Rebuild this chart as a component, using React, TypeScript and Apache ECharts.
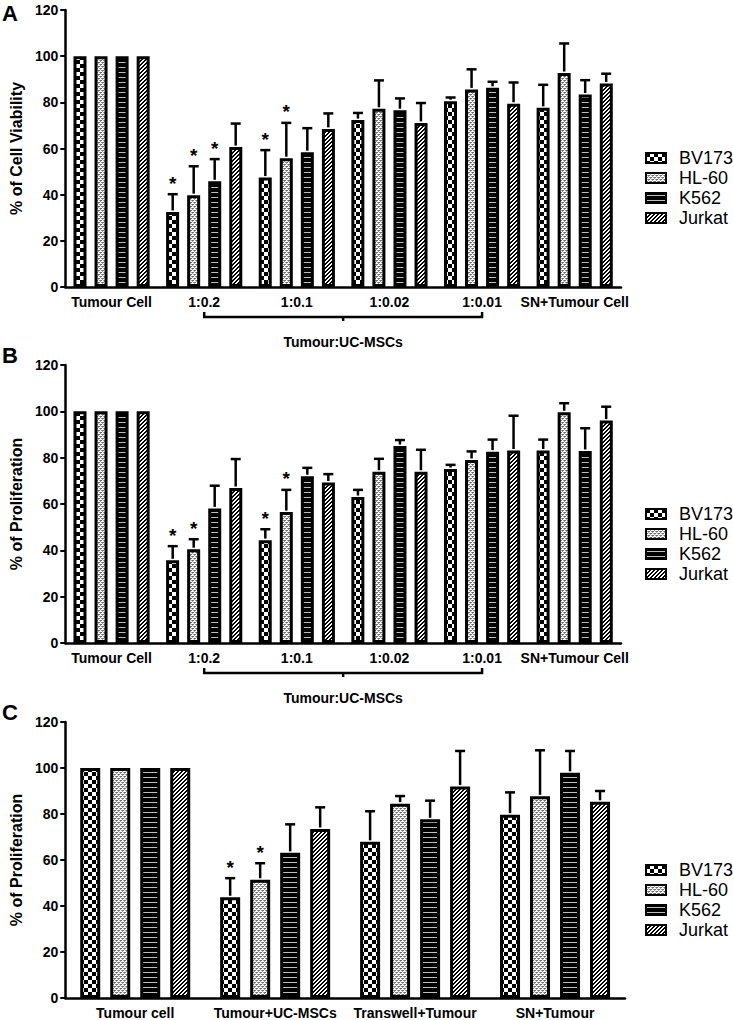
import React, { useEffect, useRef } from "react";
import * as echarts from "echarts";

// ---------- data ----------
const cellLines = ["BV173", "HL-60", "K562", "Jurkat"];
const catsA = ["Tumour Cell", "1:0.2", "1:0.1", "1:0.02", "1:0.01", "SN+Tumour Cell"];
const catsB = ["Tumour Cell", "1:0.2", "1:0.1", "1:0.02", "1:0.01", "SN+Tumour Cell"];
const catsC = ["Tumour cell", "Tumour+UC-MSCs", "Transwell+Tumour", "SN+Tumour"];
const yTicks = [0, 20, 40, 60, 80, 100, 120];

// Panel A (% of Cell Viability): means and upper ends of error bars
const aBV173 = [100, 32.5, 47.4, 72.3, 80.5, 77.6];
const aBV173Err = [100, 40.2, 59.3, 75.4, 82.1, 87.6];
const aHL60 = [100, 39.8, 55.8, 77.2, 85.6, 92.7];
const aHL60Err = [100, 52.3, 71.1, 89.5, 94.3, 105.5];
const aK562 = [100, 45.8, 58.4, 76.6, 86.3, 83.4];
const aK562Err = [100, 55.4, 68.8, 81.7, 88.9, 89.6];
const aJurkat = [100, 60.6, 68.5, 71.1, 79.4, 88.2];
const aJurkatErr = [100, 70.8, 75.2, 79.7, 88.6, 92.4];
// [categoryIndex, cellLineIndex]
const aStars = [[1, 0], [1, 1], [1, 2], [2, 0], [2, 1]];

// Panel B (% of Proliferation)
const bBV173 = [100, 35.7, 44.4, 63.0, 75.1, 83.1];
const bBV173Err = [100, 41.8, 49.1, 66.1, 76.9, 87.8];
const bHL60 = [100, 40.5, 56.5, 73.9, 79.0, 99.6];
const bHL60Err = [100, 44.8, 66.1, 79.5, 82.7, 103.5];
const bK562 = [100, 58.1, 72.0, 85.0, 82.6, 82.9];
const bK562Err = [100, 67.9, 75.6, 87.6, 87.8, 92.7];
const bJurkat = [100, 66.9, 69.3, 73.9, 83.1, 96.0];
const bJurkatErr = [100, 79.4, 72.9, 83.4, 98.1, 102.0];
const bStars = [[1, 0], [1, 1], [2, 0], [2, 1]];

// Panel C (% of Proliferation)
const cBV173 = [100, 43.8, 67.9, 79.7];
const cBV173Err = [100, 52.1, 81.2, 89.4];
const cHL60 = [100, 51.4, 84.5, 87.7];
const cHL60Err = [100, 58.6, 87.8, 107.7];
const cK562 = [100, 63.1, 77.7, 97.9];
const cK562Err = [100, 75.5, 85.8, 107.4];
const cJurkat = [100, 73.5, 92.0, 85.3];
const cJurkatErr = [100, 82.9, 107.4, 90.0];
const cStars = [[1, 0], [1, 1]];

const FONT = '"Liberation Sans", Arial, Helvetica, sans-serif';

function makePattern(w: number, h: number, draw: (ctx: CanvasRenderingContext2D) => void) {
  const c = document.createElement("canvas");
  c.width = w;
  c.height = h;
  const ctx = c.getContext("2d") as CanvasRenderingContext2D;
  draw(ctx);
  return { image: c.toDataURL(), repeat: "repeat", imageWidth: w, imageHeight: h };
}

function buildPatterns() {
  const checker = makePattern(8, 8, (ctx) => {
    ctx.fillStyle = "#fff";
    ctx.fillRect(0, 0, 8, 8);
    ctx.fillStyle = "#000";
    ctx.fillRect(0, 0, 4, 4);
    ctx.fillRect(4, 4, 4, 4);
  });
  const fine = makePattern(4, 4, (ctx) => {
    ctx.fillStyle = "#fff";
    ctx.fillRect(0, 0, 4, 4);
    ctx.fillStyle = "#6e6e6e";
    ctx.fillRect(0, 0, 2, 1);
    ctx.fillRect(2, 2, 2, 1);
    ctx.fillStyle = "#a0a0a0";
    ctx.fillRect(0, 1, 1, 1);
    ctx.fillRect(2, 3, 1, 1);
    ctx.fillRect(3, 0, 1, 1);
    ctx.fillRect(1, 2, 1, 1);
  });
  const stripes = makePattern(4, 5, (ctx) => {
    ctx.fillStyle = "#000";
    ctx.fillRect(0, 0, 4, 5);
    ctx.fillStyle = "#bdbdbd";
    ctx.fillRect(0, 2, 4, 1);
  });
  const hatch = makePattern(4, 4, (ctx) => {
    ctx.fillStyle = "#fff";
    ctx.fillRect(0, 0, 4, 4);
    ctx.fillStyle = "#000";
    for (let y = 0; y < 4; y++) {
      for (let x = 0; x < 4; x++) {
        if ((x + y) % 4 < 2) ctx.fillRect(x, y, 1, 1);
      }
    }
  });
  return [checker, fine, stripes, hatch];
}

export default function App() {
  const ref = useRef<HTMLDivElement>(null);

  useEffect(() => {
    if (!ref.current) return;
    const chart = echarts.init(ref.current, null, { renderer: "svg" });
    const patterns = buildPatterns();

    const panels = [
      {
        cats: catsA, vals: [aBV173, aHL60, aK562, aJurkat], errs: [aBV173Err, aHL60Err, aK562Err, aJurkatErr],
        stars: aStars, name: "% of Cell Viability", bw: 13, gap: 0.615,
        grid: { left: 64, top: 10, width: 557, height: 277 }, legendTop: 143,
      },
      {
        cats: catsB, vals: [bBV173, bHL60, bK562, bJurkat], errs: [bBV173Err, bHL60Err, bK562Err, bJurkatErr],
        stars: bStars, name: "% of Proliferation", bw: 13, gap: 0.615,
        grid: { left: 64, top: 365, width: 557, height: 278 }, legendTop: 499,
      },
      {
        cats: catsC, vals: [cBV173, cHL60, cK562, cJurkat], errs: [cBV173Err, cHL60Err, cK562Err, cJurkatErr],
        stars: cStars, name: "% of Proliferation", bw: 20, gap: 0.5,
        grid: { left: 64, top: 722, width: 561, height: 277 }, legendTop: 855,
      },
    ];

    const grids: any[] = [];
    const xAxes: any[] = [];
    const yAxes: any[] = [];
    const series: any[] = [];
    const legends: any[] = [];

    panels.forEach((p, pi) => {
      grids.push({ ...p.grid, containLabel: false });
      xAxes.push({
        type: "category",
        gridIndex: pi,
        data: p.cats,
        axisLine: { lineStyle: { color: "#000", width: 2.5 } },
        axisTick: { alignWithLabel: true, length: 5, lineStyle: { color: "#000", width: 2 } },
        axisLabel: { interval: 0, color: "#000", fontWeight: "bold", fontSize: 14, fontFamily: FONT, margin: 8 },
      });
      yAxes.push({
        type: "value",
        gridIndex: pi,
        min: yTicks[0],
        max: yTicks[yTicks.length - 1],
        interval: yTicks[1] - yTicks[0],
        name: p.name,
        nameLocation: "middle",
        nameGap: 38,
        nameTextStyle: { color: "#000", fontWeight: "bold", fontSize: 16, fontFamily: FONT },
        axisLine: { show: true, lineStyle: { color: "#000", width: 2.5 } },
        axisTick: { show: true, length: 5, lineStyle: { color: "#000", width: 2 } },
        axisLabel: { color: "#000", fontWeight: "bold", fontSize: 14, fontFamily: FONT, margin: 7 },
        splitLine: { show: false },
      });
      cellLines.forEach((cl, k) => {
        series.push({
          type: "bar",
          name: cl,
          xAxisIndex: pi,
          yAxisIndex: pi,
          data: p.vals[k],
          barWidth: p.bw,
          barGap: `${Math.round(p.gap * 100)}%`,
          itemStyle: { color: patterns[k], borderColor: "#000", borderWidth: 3 },
          z: 2,
        });
      });
      const step = p.bw * (1 + p.gap);
      const errData: any[] = [];
      cellLines.forEach((_, k) => {
        p.cats.forEach((_c, ci) => {
          const star = p.stars.some((s) => s[0] === ci && s[1] === k) ? 1 : 0;
          errData.push([ci, k, p.vals[k][ci], p.errs[k][ci], star]);
        });
      });
      series.push({
        type: "custom",
        name: "err" + pi,
        xAxisIndex: pi,
        yAxisIndex: pi,
        encode: { x: 0, y: [2, 3] },
        data: errData,
        z: 5,
        silent: true,
        renderItem: (_params: any, api: any) => {
          const ci = api.value(0);
          const k = api.value(1);
          const v = api.value(2);
          const e = api.value(3);
          const star = api.value(4);
          const base = api.coord([ci, v]);
          const top = api.coord([ci, e]);
          const x = base[0] + (k - 1.5) * step;
          const children: any[] = [];
          if (e > v) {
            children.push({
              type: "line",
              shape: { x1: x, y1: base[1] - 1.5, x2: x, y2: top[1] },
              style: { stroke: "#000", lineWidth: 2.5 },
            });
            children.push({
              type: "line",
              shape: { x1: x - 5, y1: top[1], x2: x + 5, y2: top[1] },
              style: { stroke: "#000", lineWidth: 2.5 },
            });
          }
          if (star) {
            children.push({
              type: "text",
              x: x,
              y: top[1] - 11,
              style: { text: "*", font: `bold 19px ${FONT}`, align: "center", verticalAlign: "middle", fill: "#000" },
            });
          }
          return { type: "group", children };
        },
      });
      legends.push({
        data: cellLines,
        orient: "vertical",
        left: 640,
        top: p.legendTop,
        icon: "rect",
        itemWidth: 20,
        itemHeight: 10,
        itemGap: 0,
        selectedMode: false,
        textStyle: { color: "#000", fontSize: 18, fontFamily: FONT, lineHeight: 20, padding: [0, 0, 0, 8] },
      });
    });

    const letters = [
      { t: "A", y: 13 },
      { t: "B", y: 355 },
      { t: "C", y: 712 },
    ].map((l) => ({
      type: "text",
      x: 2,
      y: l.y,
      style: { text: l.t, font: `bold 22px ${FONT}`, verticalAlign: "middle", fill: "#000" },
    }));

    chart.setOption({
      animation: false,
      backgroundColor: "#fff",
      grid: grids,
      xAxis: xAxes,
      yAxis: yAxes,
      legend: legends,
      series,
      graphic: letters,
    });

    // brackets "Tumour:UC-MSCs" under panels A and B
    const extras: any[] = [];
    [0, 1].forEach((pi) => {
      const cats = panels[pi].cats;
      const x1 = chart.convertToPixel({ xAxisIndex: pi }, cats[1]) as number;
      const x2 = chart.convertToPixel({ xAxisIndex: pi }, cats[4]) as number;
      const y0 = chart.convertToPixel({ yAxisIndex: pi }, 0) as number;
      const yb = y0 + 30;
      const xm = (x1 + x2) / 2;
      extras.push({
        type: "polyline",
        shape: { points: [[x1, yb - 5], [x1, yb], [x2, yb], [x2, yb - 5]] },
        style: { stroke: "#000", lineWidth: 2.5, fill: null },
      });
      extras.push({
        type: "line",
        shape: { x1: xm, y1: yb, x2: xm, y2: yb + 4 },
        style: { stroke: "#000", lineWidth: 2.5 },
      });
      extras.push({
        type: "text",
        x: xm,
        y: yb + 25,
        style: { text: "Tumour:UC-MSCs", font: `bold 14px ${FONT}`, align: "center", verticalAlign: "middle", fill: "#000" },
      });
    });
    chart.setOption({ graphic: [...letters, ...extras] });

    return () => chart.dispose();
  }, []);

  return (
    <div
      ref={ref}
      style={{ position: "absolute", left: 0, top: 0, width: 733, height: 1020, background: "#fff" }}
    />
  );
}
